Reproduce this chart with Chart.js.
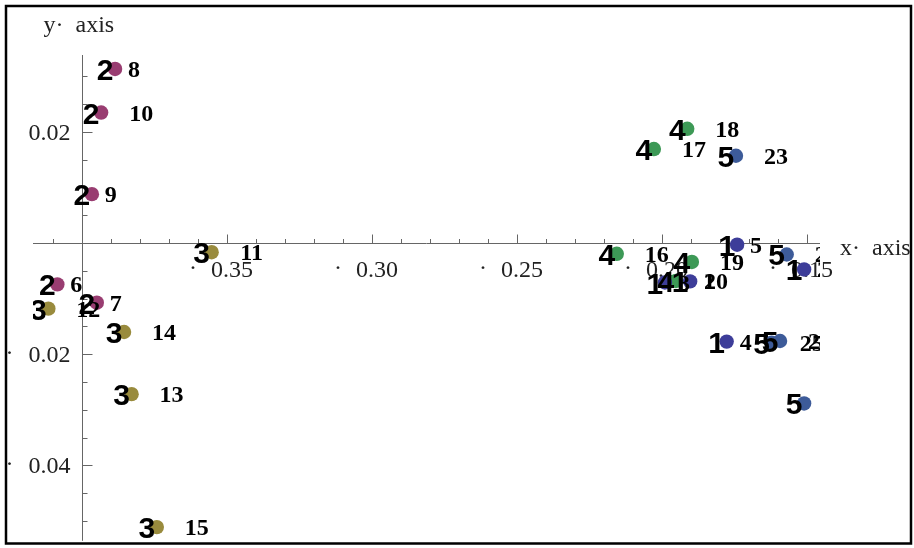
<!DOCTYPE html>
<html>
<head>
<meta charset="utf-8">
<script src="https://cdn.jsdelivr.net/npm/chart.js@4.4.1/dist/chart.umd.min.js"></script>
<style>
  html, body { margin: 0; padding: 0; background: #fff; }
  #wrap { width: 914px; height: 548px; position: relative; }
</style>
</head>
<body>
<div id="wrap"><canvas id="plot"></canvas></div>
<script>
// point groups (label shown left of each dot) and point numbers (shown right)
const groupNames = ['1', '2', '3', '4', '5'];
const groupColors = ['#3d3d99', '#993d71', '#998b3d', '#3d9956', '#3d5b99'];

const g1Ids = [1, 2, 3, 4, 5];
const g1X = [-0.1903, -0.1510, -0.1990, -0.1777, -0.1741];
const g1Y = [-0.0069, -0.00475, -0.0071, -0.01772, -0.0003];

const g2Ids = [6, 7, 8, 9, 10];
const g2X = [-0.4085, -0.3949, -0.3886, -0.3966, -0.3934];
const g2Y = [-0.00744, -0.01073, 0.0313, 0.00879, 0.02346];

const g3Ids = [11, 12, 13, 14, 15];
const g3X = [-0.3553, -0.4116, -0.3829, -0.3855, -0.3742];
const g3Y = [-0.00165, -0.0118, -0.02717, -0.0160, -0.05108];

const g4Ids = [16, 17, 18, 19, 20];
const g4X = [-0.2156, -0.2028, -0.1913, -0.1897, -0.1952];
const g4Y = [-0.00194, 0.0169, 0.02054, -0.0034, -0.00682];

const g5Ids = [21, 22, 23, 24, 25];
const g5X = [-0.1570, -0.1593, -0.1745, -0.1510, -0.1622];
const g5Y = [-0.00206, -0.01761, 0.0157, -0.02884, -0.0179];

const xMajorTicks = [-0.35, -0.30, -0.25, -0.20, -0.15];
const yMajorTicks = [0.02, -0.02, -0.04];
const xRange = [-0.4169, -0.14552];
const yRange = [-0.05354, 0.03381];
const yAxisAt = -0.40;   // where the vertical axis crosses

const groups = [
    [g1Ids, g1X, g1Y], [g2Ids, g2X, g2Y], [g3Ids, g3X, g3Y], [g4Ids, g4X, g4Y], [g5Ids, g5X, g5Y]
];

const datasets = groups.map(([ids, xs, ys], g) => ({
    label: groupNames[g],
    data: xs.map((x, i) => ({ x: x, y: ys[i], id: ids[i] })),
    backgroundColor: groupColors[g],
    borderColor: groupColors[g],
    borderWidth: 0,
    pointRadius: 7.2,
    pointHoverRadius: 7.2
}));

const fmt = v => Math.abs(v).toFixed(2);

const axesPlugin = {
    id: 'crossAxes',
    beforeDatasetsDraw(chart) {
        const { ctx, scales: { x, y } } = chart;
        const ox = Math.round(x.getPixelForValue(yAxisAt)) + 0.5;
        const oy = Math.round(y.getPixelForValue(0)) + 0.5;
        ctx.save();

        // outer frame
        ctx.strokeStyle = '#000';
        ctx.lineWidth = 2.5;
        ctx.strokeRect(6, 6, 905, 537.5);

        // axis lines
        ctx.strokeStyle = '#666';
        ctx.lineWidth = 1;
        ctx.beginPath();
        ctx.moveTo(x.left, oy); ctx.lineTo(x.right, oy);
        ctx.moveTo(ox, y.top); ctx.lineTo(ox, y.bottom);

        // x ticks every 0.01, long on the labelled ones
        for (let k = Math.ceil(xRange[0] * 100); k <= Math.floor(xRange[1] * 100); k++) {
            const v = k / 100;
            if (Math.abs(v - yAxisAt) < 1e-9) continue;
            const px = Math.round(x.getPixelForValue(v)) + 0.5;
            const major = xMajorTicks.some(t => Math.abs(t - v) < 1e-9);
            ctx.moveTo(px, oy); ctx.lineTo(px, oy - (major ? 9 : 4.5));
        }
        // y ticks every 0.005
        for (let k = Math.ceil(yRange[0] * 200); k <= Math.floor(yRange[1] * 200); k++) {
            if (k === 0) continue;
            const v = k / 200;
            const py = Math.round(y.getPixelForValue(v)) + 0.5;
            const major = yMajorTicks.some(t => Math.abs(t - v) < 1e-9);
            ctx.moveTo(ox, py); ctx.lineTo(ox + (major ? 10 : 5), py);
        }
        ctx.stroke();

        ctx.fillStyle = '#222';
        ctx.font = '24px "Liberation Serif"';
        ctx.textBaseline = 'alphabetic';

        xMajorTicks.forEach(v => {
            const px = x.getPixelForValue(v);
            ctx.textAlign = 'center';
            ctx.fillText(fmt(v), px + 5, oy + 33.5);
            if (v < 0) ctx.fillText('·', px - 34, oy + 31);
        });
        yMajorTicks.forEach(v => {
            const py = y.getPixelForValue(v);
            ctx.textAlign = 'right';
            ctx.fillText(fmt(v), ox - 12, py + 8);
            if (v < 0) { ctx.textAlign = 'center'; ctx.fillText('·', ox - 73, py + 6); }
        });

        // axis titles
        ctx.textAlign = 'left';
        ctx.fillText('y·  axis', ox - 39, 32);
        ctx.fillText('x·  axis', x.right + 20, oy + 11.5);
        ctx.restore();
    },
    afterDatasetsDraw(chart) {
        const { ctx, chartArea: a } = chart;
        ctx.save();
        ctx.beginPath();
        ctx.rect(a.left, a.top, a.right - a.left, a.bottom - a.top);
        ctx.clip();
        ctx.fillStyle = '#000';
        ctx.textAlign = 'center';
        ctx.textBaseline = 'alphabetic';
        chart.data.datasets.forEach((ds, g) => {
            const meta = chart.getDatasetMeta(g);
            meta.data.forEach((pt, j) => {
                ctx.font = 'bold 30px "Liberation Sans"';
                ctx.fillText(ds.label, pt.x - 10, pt.y + 11);
                const txt = String(ds.data[j].id);
                ctx.font = 'bold 24px "Liberation Serif"';
                ctx.fillText(txt, pt.x + 19 + (txt.length - 1) * 21, pt.y + 8);
            });
        });
        ctx.restore();
    }
};

new Chart(document.getElementById('plot'), {
    type: 'scatter',
    data: { datasets: datasets },
    options: {
        responsive: true,
        maintainAspectRatio: false,
        animation: false,
        layout: { padding: { left: 33, top: 55, right: 94, bottom: 6 } },
        plugins: { legend: { display: false }, tooltip: { enabled: false } },
        scales: {
            x: { type: 'linear', min: xRange[0], max: xRange[1], display: false },
            y: { type: 'linear', min: yRange[0], max: yRange[1], display: false }
        }
    },
    plugins: [axesPlugin]
});
</script>
</body>
</html>
